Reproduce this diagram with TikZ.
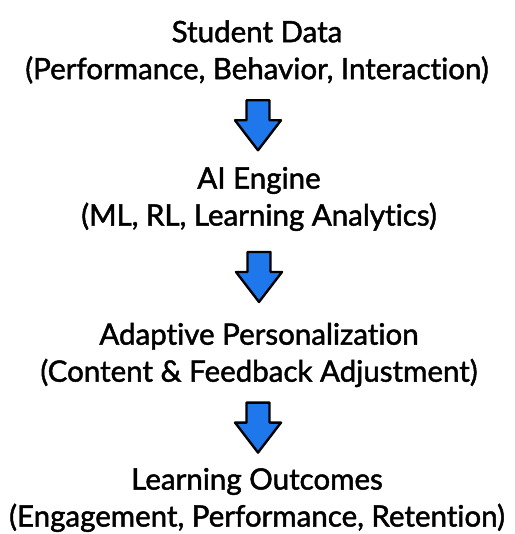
\documentclass[tikz,border=0pt]{standalone}
\usepackage{fontspec}
\setmainfont{Lato}
\newfontfamily\stagefont{Lato}[FakeBold=1.6,Ligatures={NoCommon,NoRare,NoContextual}]
\usetikzlibrary{calc}

\definecolor{flowblue}{RGB}{30,120,235}

\tikzset{
  stage/.style={align=center,inner sep=0pt,font=\stagefont\fontsize{29.5}{37}\selectfont},
  downarrow/.pic={
    \filldraw[fill=flowblue,draw=black,line width=2.4pt,line join=round]
      (-11.5,25) -- (11.5,25) -- (11.5,5) -- (23,5) -- (0,-25)
      -- (-23,5) -- (-11.5,5) -- cycle;
  }
}

\begin{document}
\begin{tikzpicture}[x=1pt,y=1pt]
  \useasboundingbox (0,0) rectangle (514,-534);
  \node[stage] (data)    at (257,-52)  {Student Data\\(Performance, Behavior, Interaction)};
  \node[stage] (engine)  at (259,-199) {AI Engine\\(ML, RL, Learning Analytics)};
  \node[stage] (adapt)   at (259,-355) {Adaptive Personalization\\(Content \& Feedback Adjustment)};
  \node[stage] (outcome) at (257,-500) {Learning Outcomes\\(Engagement, Performance, Retention)};
  \pic at ($(data.south)!0.5!(engine.north)$) {downarrow};
  \pic at ($(engine.south)!0.5!(adapt.north)$) {downarrow};
  \pic at ($(adapt.south)!0.5!(outcome.north)$) {downarrow};
\end{tikzpicture}
\end{document}
